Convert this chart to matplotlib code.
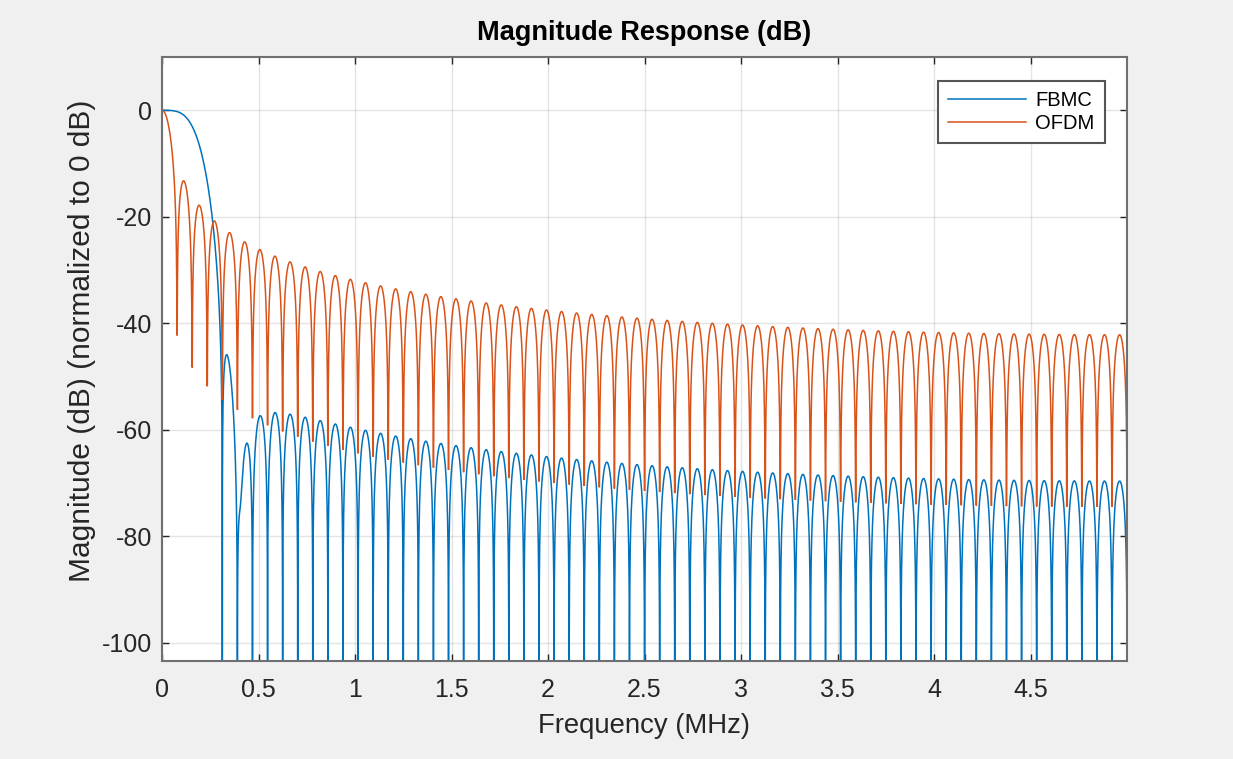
import matplotlib
matplotlib.use("Agg")
import matplotlib.pyplot as plt
import numpy as np

# system parameters (sample rate in MHz, overlap factor, FFT size)
fs_mhz = 10.0
overlap = 4
num_fft = 32
proto_hk = [1.0, 0.97195983, np.sqrt(2) / 2, 0.214]
num_points = 8192

series_names = ["FBMC", "OFDM"]
series_colors = ["#0072BD", "#D95319"]
# exact zeros of the rectangular pulse are -Inf dB and leave gaps in the trace
series_gaps_at_nulls = [False, True]
x_ticks = [0, 0.5, 1, 1.5, 2, 2.5, 3, 3.5, 4, 4.5]
x_tick_labels = ["0", "0.5", "1", "1.5", "2", "2.5", "3", "3.5", "4", "4.5"]
y_ticks = [-100, -80, -60, -40, -20, 0]


def build_filters():
    length = overlap * num_fft
    n = np.arange(length)
    h_fbmc = np.full(length, proto_hk[0])
    for k in range(1, overlap):
        h_fbmc = h_fbmc + 2 * (-1) ** k * proto_hk[k] * np.cos(2 * np.pi * k * n / length)
    h_ofdm = np.ones(length)
    return [h_fbmc, h_ofdm]


def magnitude_db(h, gaps):
    resp = np.fft.fft(h, 2 * num_points)[:num_points]
    mag = np.abs(resp) / np.abs(h.sum())
    db = 20 * np.log10(np.maximum(mag, 1e-15))
    if gaps:
        db[mag < 1e-9] = np.nan
    return db


def main():
    f = np.arange(num_points) * fs_mhz / 2 / num_points

    plt.rcParams["font.family"] = ["Liberation Sans", "DejaVu Sans"]
    plt.rcParams["axes.unicode_minus"] = False
    fig = plt.figure(figsize=(12.33, 7.59), dpi=100, facecolor="#F0F0F0")
    ax = fig.add_axes([162 / 1233, 1 - 661 / 759, (1127 - 162) / 1233, (661 - 57) / 759])

    for h, name, color, gaps in zip(build_filters(), series_names, series_colors, series_gaps_at_nulls):
        ax.plot(f, magnitude_db(h, gaps), color=color, linewidth=1.1, label=name)

    ax.set_xlim(0, f[-1])
    ax.set_ylim(-103.4, 10)
    ax.set_xticks(x_ticks)
    ax.set_xticklabels(x_tick_labels)
    ax.set_yticks(y_ticks)
    ax.grid(True, color="#262626", alpha=0.12, linewidth=1.0)
    ax.tick_params(direction="in", top=True, right=True, labelsize=18, colors="#262626",
                   labelcolor="#262626", length=5, width=1.0, pad=7)
    ax.tick_params(axis="x", pad=12)
    for spine in ax.spines.values():
        spine.set_color("#707070")
        spine.set_linewidth(1.5)

    ax.set_title("Magnitude Response (dB)", fontsize=19.5, fontweight="bold", color="black", pad=12)
    ax.set_xlabel("Frequency (MHz)", fontsize=19.8, color="#262626", labelpad=8)
    ax.set_ylabel("Magnitude (dB) (normalized to 0 dB)", fontsize=21.5, color="#262626")
    ax.yaxis.set_label_coords(-0.068, 0.53)

    leg = ax.legend(loc="upper right", fontsize=14.5, handlelength=3.9, handletextpad=0.45,
                    borderpad=0.5, labelspacing=0.2, fancybox=False, framealpha=1,
                    borderaxespad=0, bbox_to_anchor=(0.977, 0.960))
    leg.get_frame().set_edgecolor("#555555")
    leg.get_frame().set_linewidth(1.5)

    fig.savefig("out.png", dpi=100, facecolor=fig.get_facecolor())


if __name__ == "__main__":
    main()
